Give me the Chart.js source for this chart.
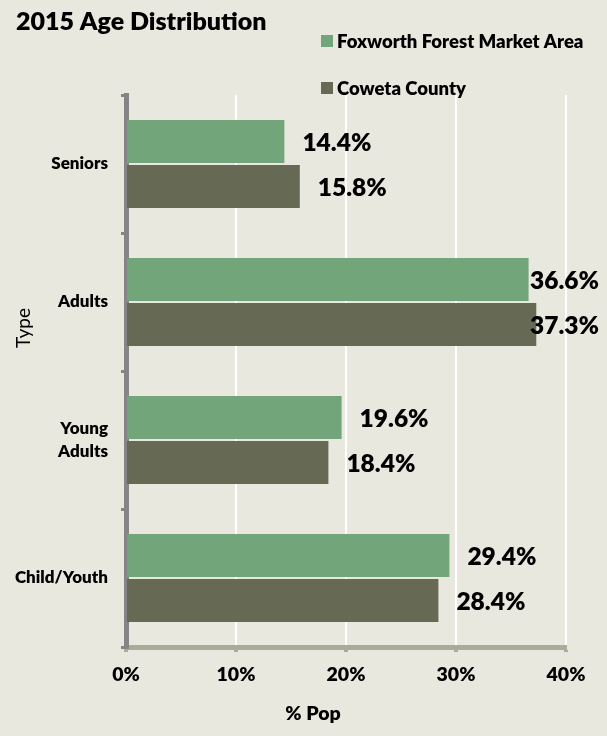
<!DOCTYPE html>
<html>
<head>
<meta charset="utf-8">
<title>2015 Age Distribution</title>
<script src="https://cdn.jsdelivr.net/npm/chart.js@4/dist/chart.umd.min.js"></script>
<style>
  html, body { margin: 0; padding: 0; background: #e9e8de; }
  #wrap { width: 607px; height: 736px; }
  canvas { display: block; background: #e9e8de; }
</style>
</head>
<body>
<div id="wrap"><canvas id="chart" width="607" height="736"></canvas></div>
<script>
// Age groups, top to bottom
const categories = ['Seniors', 'Adults', ['Young', 'Adults'], 'Child/Youth'];
// Share of population (%)
const marketArea = [14.4, 36.6, 19.6, 29.4];
const cowetaCounty = [15.8, 37.3, 18.4, 28.4];
const seriesNames = ['Foxworth Forest Market Area', 'Coweta County'];
const xTicks = [0, 10, 20, 30, 40];

const COLORS = ['#72a57a', '#666a55'];
const FONT = 'Lato, "Open Sans", "DejaVu Sans", sans-serif';
const HEAVY = '800';

// Title, legend and axis titles
const decorPlugin = {
  id: 'decor',
  afterDraw(chart) {
    const ctx = chart.ctx;
    ctx.save();
    ctx.fillStyle = '#000';
    ctx.textBaseline = 'alphabetic';
    ctx.textAlign = 'left';
    ctx.font = HEAVY + ' 25px ' + FONT;
    ctx.fillText('2015 Age Distribution', 16, 30);

    const legendY = [41, 88];
    ctx.font = HEAVY + ' 18.5px ' + FONT;
    ctx.textBaseline = 'middle';
    seriesNames.forEach((name, i) => {
      ctx.fillStyle = COLORS[i];
      ctx.fillRect(321, legendY[i] - 6, 12, 12);
      ctx.fillStyle = '#000';
      ctx.fillText(name, 337, legendY[i] + 1);
    });

    // x-axis title
    ctx.font = HEAVY + ' 19.5px ' + FONT;
    ctx.textAlign = 'center';
    ctx.fillText('% Pop', 313, 714);

    // y-axis title
    ctx.translate(24, 328);
    ctx.rotate(-Math.PI / 2);
    ctx.font = '19px ' + FONT;
    ctx.fillText('Type', 0, 0);
    ctx.restore();
  }
};

// Value labels to the right of each bar
const valueLabels = {
  id: 'valueLabels',
  afterDatasetsDraw(chart) {
    const ctx = chart.ctx;
    ctx.save();
    ctx.font = HEAVY + ' 24.5px ' + FONT;
    ctx.fillStyle = '#000';
    ctx.textAlign = 'left';
    ctx.textBaseline = 'middle';
    chart.data.datasets.forEach((ds, di) => {
      const meta = chart.getDatasetMeta(di);
      meta.data.forEach((bar, i) => {
        const text = ds.data[i].toFixed(1) + '%';
        const w = ctx.measureText(text).width;
        const x = Math.min(bar.x + 18, chart.width - 8 - w);
        ctx.fillText(text, x, bar.y + 2);
      });
    });
    ctx.restore();
  }
};

new Chart(document.getElementById('chart'), {
  type: 'bar',
  data: {
    labels: categories,
    datasets: [
      { label: seriesNames[0], data: marketArea, backgroundColor: COLORS[0],
        categoryPercentage: 0.652, barPercentage: 0.955 },
      { label: seriesNames[1], data: cowetaCounty, backgroundColor: COLORS[1],
        categoryPercentage: 0.652, barPercentage: 0.955 }
    ]
  },
  options: {
    indexAxis: 'y',
    responsive: false,
    animation: false,
    layout: { padding: { top: 95, right: 41, bottom: 0, left: 0 } },
    plugins: {
      legend: { display: false },
      title: { display: false },
      tooltip: { enabled: false }
    },
    scales: {
      x: {
        min: xTicks[0],
        max: xTicks[xTicks.length - 1],
        afterBuildTicks(scale) { scale.ticks = xTicks.map(v => ({ value: v })); },
        afterFit(scale) { scale.height = 89; },
        ticks: {
          callback: v => v + '%',
          color: '#000',
          font: { family: FONT, size: 19.5, weight: HEAVY },
          padding: 11,
          maxRotation: 0
        },
        grid: {
          color: '#ffffff',
          lineWidth: 2,
          drawTicks: true,
          tickLength: 5,
          tickColor: '#a9ac98',
          tickWidth: 4
        },
        border: { display: true, color: '#a9ac98', width: 5 }
      },
      y: {
        afterFit(scale) { scale.width = 126; },
        ticks: {
          color: '#000',
          font: { family: FONT, size: 17, weight: HEAVY, lineHeight: 1.35 },
          padding: 13
        },
        grid: {
          offset: true,
          drawOnChartArea: false,
          drawTicks: true,
          tickLength: 5,
          color: '#858585',
          lineWidth: 3
        },
        border: { display: true, color: '#858585', width: 5 }
      }
    }
  },
  plugins: [decorPlugin, valueLabels]
});
</script>
</body>
</html>
